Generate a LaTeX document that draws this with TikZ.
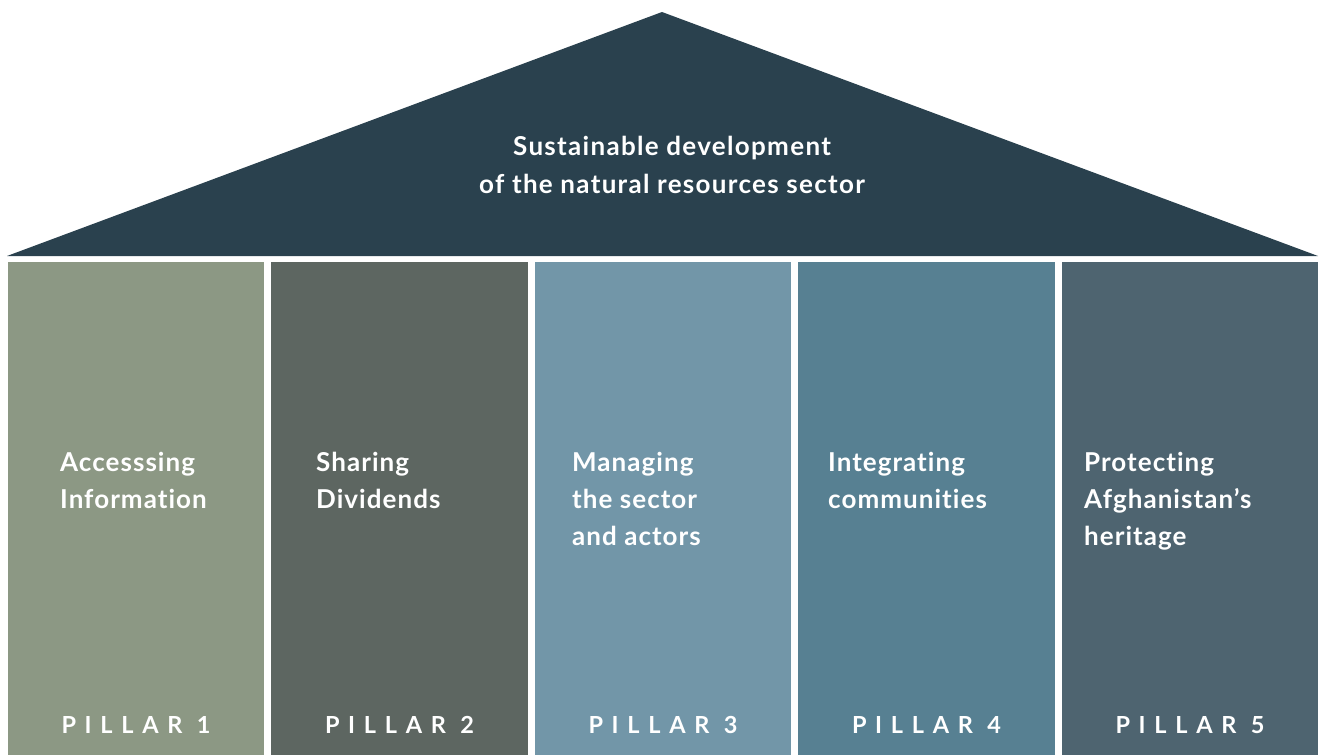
\documentclass[tikz,border=0pt]{standalone}
\usepackage{fontspec}
\setmainfont{Lato}[Ligatures={NoCommon}]
\usepackage{tikz}
\usetikzlibrary{positioning}
\definecolor{roofcol}{HTML}{2A414E}
\definecolor{pilcolA}{HTML}{8C9884}
\definecolor{pilcolB}{HTML}{5D6661}
\definecolor{pilcolC}{HTML}{7296A8}
\definecolor{pilcolD}{HTML}{578092}
\definecolor{pilcolE}{HTML}{4E6470}

\tikzset{
    pillar/.style={draw=none, fill=#1, anchor=north west, inner sep=0pt,
        minimum width=256.5pt, minimum height=493pt},
    pilltext/.style={text=white, anchor=north west, align=left, inner sep=0pt,
        font=\fontsize{26}{37}\selectfont\bfseries\addfontfeature{LetterSpace=4}},
    pilllabel/.style={text=white, inner sep=0pt,
        font=\fontsize{23.5}{26}\selectfont\bfseries\addfontfeature{LetterSpace=37}},
}

\begin{document}
\begin{tikzpicture}[x=1pt, y=-1pt]
        \useasboundingbox (0,0) rectangle (1319,755);
        \pgfmathsetmacro{\pilw}{256.5}
        \pgfmathsetmacro{\pilgap}{7}

        % roof
        \fill[roofcol] (7,256) -- (662,12) -- (1318,256) -- cycle;
        \node[text=white, align=center, font=\fontsize{26}{38}\selectfont\bfseries\addfontfeature{LetterSpace=5}] (roof) at (672,165)
            {Sustainable development\\of the natural resources sector};

        % pillars
        \node[pillar=pilcolA] (p1) at (7.5,262) {};
        \node[pillar=pilcolB] (p2) at (7.5+\pilw+\pilgap,262) {};
        \node[pillar=pilcolC] (p3) at (7.5+2*\pilw+2*\pilgap,262) {};
        \node[pillar=pilcolD] (p4) at (7.5+3*\pilw+3*\pilgap,262) {};
        \node[pillar=pilcolE] (p5) at (7.5+4*\pilw+4*\pilgap,262) {};

        % pillar texts
        \node[pilltext] (t1) at (60,452) {Accesssing\\Information};
        \node[pilltext] (t2) at (316,452) {Sharing\\Dividends};
        \node[pilltext] (t3) at (572,452) {Managing\\the sector\\and actors};
        \node[pilltext] (t4) at (828,452) {Integrating\\communities};
        \node[pilltext] (t5) at (1084,452) {Protecting\\Afghanistan’s\\heritage};

        % pillar numbers
        \node[pilllabel, above=22pt of p1.south] (l1) {PILLAR 1};
        \node[pilllabel, above=22pt of p2.south] (l2) {PILLAR 2};
        \node[pilllabel, above=22pt of p3.south] (l3) {PILLAR 3};
        \node[pilllabel, above=22pt of p4.south] (l4) {PILLAR 4};
        \node[pilllabel, above=22pt of p5.south] (l5) {PILLAR 5};
\end{tikzpicture}
\end{document}
